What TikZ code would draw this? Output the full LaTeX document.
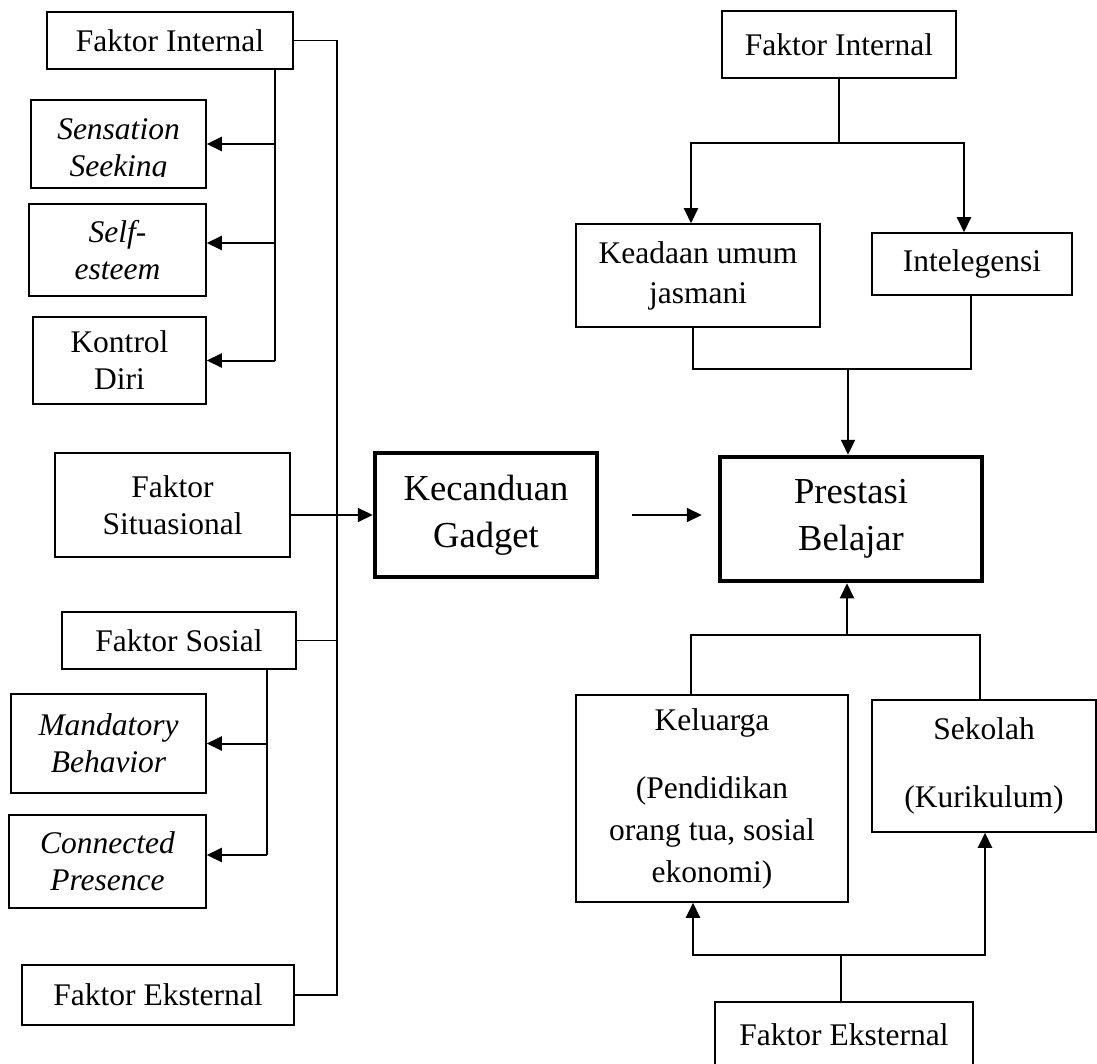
\documentclass[tikz,border=0pt]{standalone}
\usepackage{fontspec}
\setmainfont{Liberation Serif}
\usetikzlibrary{arrows.meta}
\newcommand\fsN{\fontsize{15.75pt}{18.5pt}\selectfont}
\newcommand\fsK{\fontsize{15.75pt}{20pt}\selectfont}
\newcommand\fsW{\fontsize{15.75pt}{21pt}\selectfont}
\newcommand\fsB{\fontsize{18.3pt}{23.5pt}\selectfont}
\begin{document}
\begin{tikzpicture}[x=0.5pt,y=-0.5pt,
  box/.style={draw, line width=0.75pt, inner sep=0pt, align=center, font=\fsN},
  bigbox/.style={box, line width=2.25pt, font=\fsB},
  ln/.style={line width=0.75pt},
  arr/.style={line width=1pt, -{Triangle[length=7.5pt,width=7pt]}}]
\useasboundingbox (0,0) rectangle (1097,1064);

% ---------- left column ----------
\node[box, minimum width=123pt, minimum height=28.5pt] (FIL) at (170,40.5) {Faktor Internal};
\node[box, minimum width=87.5pt, minimum height=44pt] (SS) at (118.5,144) {};
\begin{scope}
  \clip (20,95) rectangle (215,177);
  \node[font=\fsN\itshape, align=center, inner sep=0pt] (SSt) at (118.5,150.5) {Sensation\\Seeking};
\end{scope}
\node[box, font=\fsN\itshape, minimum width=88.5pt, minimum height=46pt] (SE) at (117.5,250) {Self-\\esteem};
\node[box, minimum width=86.5pt, minimum height=43.5pt] (KD) at (119.5,360.5) {Kontrol\\Diri};
\node[box, minimum width=117.5pt, minimum height=52pt] (FS) at (172.5,505) {Faktor\\Situasional};
\node[bigbox, minimum width=111pt, minimum height=62pt] (KG) at (486,515) {Kecanduan\\Gadget};
\node[box, minimum width=117pt, minimum height=28.5pt] (FSo) at (179,640.5) {Faktor Sosial};
\node[box, font=\fsN\itshape, minimum width=97.5pt, minimum height=49.5pt] (MB) at (108.5,743.5) {Mandatory\\Behavior};
\node[box, font=\fsN\itshape, minimum width=98.5pt, minimum height=46.5pt] (CP) at (107.5,861.5) {Connected\\Presence};
\node[box, minimum width=136pt, minimum height=30pt] (FEL) at (158,995) {Faktor Eksternal};

% ---------- right column ----------
\node[box, minimum width=117pt, minimum height=33.5pt] (FIR) at (839,44.5) {Faktor Internal};
\node[box, font=\fsK, minimum width=122pt, minimum height=51.5pt] (KU) at (698,275.5) {Keadaan umum\\jasmani};
\node[box, minimum width=100pt, minimum height=31pt] (INT) at (972,264) {Intelegensi};
\node[bigbox, minimum width=131pt, minimum height=62pt] (PB) at (851,519) {Prestasi\\Belajar};
\node[box, font=\fsW, minimum width=136pt, minimum height=103.5pt] (KL) at (712,798.5) {Keluarga\\[13pt](Pendidikan\\orang tua, sosial\\ekonomi)};
\node[box, font=\fsW, minimum width=112pt, minimum height=66pt] (SK) at (984,766) {Sekolah\\[13pt](Kurikulum)};
\node[box, minimum width=129pt, minimum height=33pt] (FER) at (844,1035) {Faktor Eksternal};

% ---------- left connectors ----------
\coordinate (busT) at (337,40.5);
\coordinate (busB) at (337,995);
\draw[ln] (FIL.east) -- (busT) -- (busB) -- (FEL.east);
\draw[ln] (FSo.east) -- (FSo.east -| busT);
\draw[arr] (FS.east |- KG.west) -- (KG.west);

\coordinate (iv) at (275,0);
\coordinate (seA) at ([yshift=3.5pt]SE.east);
\draw[ln] (FIL.south -| iv) -- (iv |- KD.east);
\draw[arr] (iv |- SS.east) -- (SS.east);
\draw[arr] (seA -| iv) -- (seA);
\draw[arr] (iv |- KD.east) -- (KD.east);

\coordinate (sv) at (267,0);
\coordinate (cpA) at ([yshift=3.25pt]CP.east);
\draw[ln] (FSo.south -| sv) -- (cpA -| sv);
\draw[arr] (sv |- MB.east) -- (MB.east);
\draw[arr] (cpA -| sv) -- (cpA);

% ---------- centre arrow ----------
\draw[arr, shorten <=16.5pt, shorten >=8pt] (KG.east) -- (KG.east -| PB.west);

% ---------- right connectors ----------
\coordinate (jT) at (839,143);
\coordinate (kuT) at (691,143);
\coordinate (inT) at (964,143);
\draw[ln] (FIR.south) -- (jT);
\draw[arr] (jT) -- (kuT) -- (kuT |- KU.north);
\draw[arr] (jT) -- (inT) -- (inT |- INT.north);

\coordinate (jM) at (848,369);
\coordinate (kuB) at (693,369);
\coordinate (inB) at (971,369);
\draw[ln] (kuB |- KU.south) -- (kuB) -- (inB) -- (inB |- INT.south);
\draw[arr] (jM) -- (jM |- PB.north);

\coordinate (jB) at (847,635);
\coordinate (klT) at (691,635);
\coordinate (skT) at (980,635);
\draw[arr] (jB) -- (jB |- PB.south);
\draw[ln] (klT |- KL.north) -- (klT) -- (skT) -- (skT |- SK.north);

\coordinate (jE) at (841,955);
\coordinate (klB) at (693,955);
\coordinate (skB) at (985,955);
\draw[arr] (jE) -- (klB) -- (klB |- KL.south);
\draw[arr] (jE) -- (skB) -- (skB |- SK.south);
\draw[ln] (FER.north -| jE) -- (jE);
\end{tikzpicture}
\end{document}
